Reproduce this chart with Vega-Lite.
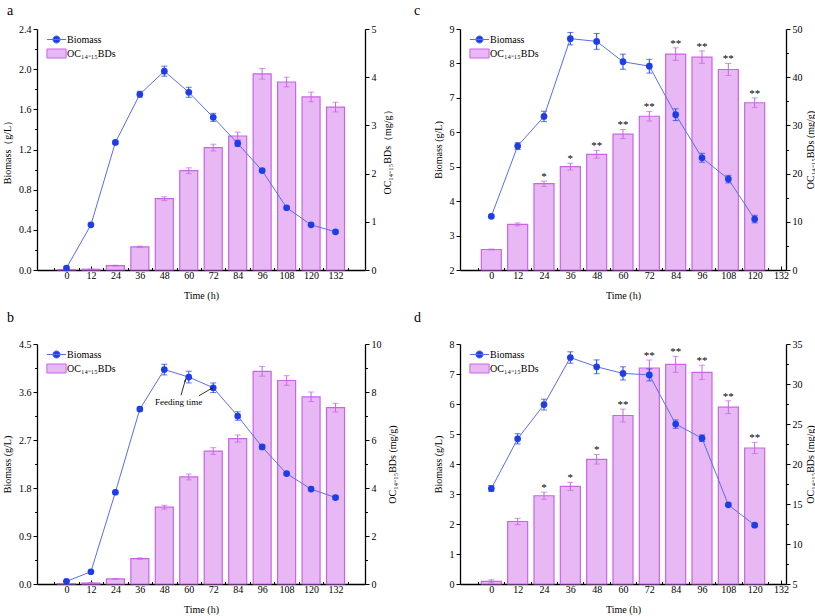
{
  "$schema": "https://vega.github.io/schema/vega-lite/v6.json",
  "background": "white",
  "padding": {"left": 2, "top": 4, "right": 0, "bottom": 0},
  "config": {
    "view": {"stroke": null},
    "font": "Liberation Serif",
    "axis": {"labelFont": "Liberation Serif", "titleFont": "Liberation Serif", "labelFontSize": 10, "titleFontSize": 10, "titleFontWeight": "normal", "labelColor": "black", "titleColor": "black", "domainColor": "black", "tickColor": "black", "domainWidth": 1.3, "tickWidth": 1, "grid": false, "labelFlush": false, "labelOverlap": false},
    "legend": {"orient": "none", "title": null, "symbolSize": 144, "symbolStrokeWidth": 1, "symbolOpacity": 1, "labelOffset": 4, "labelFont": "Liberation Serif", "labelFontSize": 10, "labelColor": "black", "padding": 0},
    "title": {"font": "Liberation Serif", "fontSize": 14, "fontWeight": "normal", "anchor": "start", "frame": "group", "color": "black"},
    "text": {"font": "Liberation Serif"}
  },
  "datasets": {
    "a": [
      {"t": 0, "bio": 0.02, "bioErr": 0.01, "oc": 0.01, "ocErr": 0.005},
      {"t": 12, "bio": 0.45, "bioErr": 0.01, "oc": 0.015, "ocErr": 0.005},
      {"t": 24, "bio": 1.27, "bioErr": 0.015, "oc": 0.09, "ocErr": 0.01},
      {"t": 36, "bio": 1.75, "bioErr": 0.03, "oc": 0.48, "ocErr": 0.015},
      {"t": 48, "bio": 1.98, "bioErr": 0.05, "oc": 1.48, "ocErr": 0.04},
      {"t": 60, "bio": 1.77, "bioErr": 0.05, "oc": 2.06, "ocErr": 0.06},
      {"t": 72, "bio": 1.52, "bioErr": 0.04, "oc": 2.54, "ocErr": 0.07},
      {"t": 84, "bio": 1.26, "bioErr": 0.03, "oc": 2.78, "ocErr": 0.08},
      {"t": 96, "bio": 0.99, "bioErr": 0.015, "oc": 4.07, "ocErr": 0.11},
      {"t": 108, "bio": 0.62, "bioErr": 0.015, "oc": 3.9, "ocErr": 0.1},
      {"t": 120, "bio": 0.45, "bioErr": 0.015, "oc": 3.59, "ocErr": 0.1},
      {"t": 132, "bio": 0.38, "bioErr": 0.015, "oc": 3.38, "ocErr": 0.1}
    ],
    "b": [
      {"t": 0, "bio": 0.05, "bioErr": 0.01, "oc": 0.02, "ocErr": 0.01},
      {"t": 12, "bio": 0.23, "bioErr": 0.02, "oc": 0.04, "ocErr": 0.01},
      {"t": 24, "bio": 1.72, "bioErr": 0.03, "oc": 0.21, "ocErr": 0.02},
      {"t": 36, "bio": 3.28, "bioErr": 0.04, "oc": 1.06, "ocErr": 0.03},
      {"t": 48, "bio": 4.02, "bioErr": 0.1, "oc": 3.2, "ocErr": 0.08},
      {"t": 60, "bio": 3.88, "bioErr": 0.11, "oc": 4.46, "ocErr": 0.12},
      {"t": 72, "bio": 3.68, "bioErr": 0.09, "oc": 5.54, "ocErr": 0.14},
      {"t": 84, "bio": 3.15, "bioErr": 0.08, "oc": 6.06, "ocErr": 0.15},
      {"t": 96, "bio": 2.57, "bioErr": 0.04, "oc": 8.86, "ocErr": 0.2},
      {"t": 108, "bio": 2.07, "bioErr": 0.03, "oc": 8.48, "ocErr": 0.2},
      {"t": 120, "bio": 1.78, "bioErr": 0.03, "oc": 7.8, "ocErr": 0.2},
      {"t": 132, "bio": 1.62, "bioErr": 0.03, "oc": 7.35, "ocErr": 0.18}
    ],
    "c": [
      {"t": 0, "bio": 3.56, "bioErr": 0.05, "oc": 4.25, "ocErr": 0.1, "sig": ""},
      {"t": 12, "bio": 5.6, "bioErr": 0.1, "oc": 9.47, "ocErr": 0.3, "sig": ""},
      {"t": 24, "bio": 6.46, "bioErr": 0.15, "oc": 17.9, "ocErr": 0.55, "sig": "*"},
      {"t": 36, "bio": 8.72, "bioErr": 0.18, "oc": 21.45, "ocErr": 0.7, "sig": "*"},
      {"t": 48, "bio": 8.64, "bioErr": 0.23, "oc": 24.0, "ocErr": 0.8, "sig": "**"},
      {"t": 60, "bio": 8.05, "bioErr": 0.22, "oc": 28.2, "ocErr": 0.95, "sig": "**"},
      {"t": 72, "bio": 7.92, "bioErr": 0.2, "oc": 31.9, "ocErr": 1.0, "sig": "**"},
      {"t": 84, "bio": 6.51, "bioErr": 0.17, "oc": 44.8, "ocErr": 1.3, "sig": "**"},
      {"t": 96, "bio": 5.26, "bioErr": 0.13, "oc": 44.15, "ocErr": 1.3, "sig": "**"},
      {"t": 108, "bio": 4.64, "bioErr": 0.11, "oc": 41.6, "ocErr": 1.25, "sig": "**"},
      {"t": 120, "bio": 3.48, "bioErr": 0.11, "oc": 34.7, "ocErr": 1.0, "sig": "**"}
    ],
    "d": [
      {"t": 0, "bio": 3.18, "bioErr": 0.1, "oc": 5.33, "ocErr": 0.2, "sig": ""},
      {"t": 12, "bio": 4.84, "bioErr": 0.17, "oc": 12.81, "ocErr": 0.4, "sig": ""},
      {"t": 24, "bio": 5.98, "bioErr": 0.18, "oc": 16.03, "ocErr": 0.45, "sig": "*"},
      {"t": 36, "bio": 7.55, "bioErr": 0.19, "oc": 17.2, "ocErr": 0.5, "sig": "*"},
      {"t": 48, "bio": 7.24, "bioErr": 0.23, "oc": 20.59, "ocErr": 0.6, "sig": "*"},
      {"t": 60, "bio": 7.02, "bioErr": 0.22, "oc": 26.06, "ocErr": 0.8, "sig": "**"},
      {"t": 72, "bio": 6.97, "bioErr": 0.2, "oc": 32.0, "ocErr": 1.0, "sig": "**"},
      {"t": 84, "bio": 5.33, "bioErr": 0.14, "oc": 32.45, "ocErr": 1.0, "sig": "**"},
      {"t": 96, "bio": 4.86, "bioErr": 0.11, "oc": 31.45, "ocErr": 0.9, "sig": "**"},
      {"t": 108, "bio": 2.64, "bioErr": 0.05, "oc": 27.1, "ocErr": 0.8, "sig": "**"},
      {"t": 120, "bio": 1.96, "bioErr": 0.05, "oc": 22.0, "ocErr": 0.7, "sig": "**"}
    ],
    "bFeed": [{"t": 55, "bio": 3.41, "label": "Feeding time"}],
    "bArrows": [
      {"id": 1, "t0": 56.2, "b0": 3.54, "t1": 58.3, "b1": 3.82},
      {"id": 2, "t0": 65, "b0": 3.53, "t1": 71.3, "b1": 3.67}
    ]
  },
  "columns": 2,
  "align": "each",
  "spacing": {"row": 10, "column": 17},
  "resolve": {"scale": {"stroke": "independent", "fill": "independent"}, "legend": {"stroke": "independent", "fill": "independent"}},
  "concat": [
    {
      "title": {"text": "a", "offset": 6, "dx": -30},
      "width": 328, "height": 241,
      "data": {"name": "a"},
      "layer": [
        {"layer": [
          {"mark": {"type": "bar", "size": 18, "stroke": "#c964e6", "strokeWidth": 1.2},
           "encoding": {
             "x": {"field": "t", "type": "quantitative", "title": "Time (h)", "scale": {"domain": [-12, 144], "nice": false, "zero": false},
                   "axis": {"values": [-6,0,6,12,18,24,30,36,42,48,54,60,66,72,78,84,90,96,102,108,114,120,126,132,138], "tickCount": 100, "labelOverlap": false, "labelExpr": "datum.value % 12 === 0 && datum.value >= 0 ? datum.label : ''", "tickSize": {"condition": {"test": "datum.value % 12 === 0", "value": -4}, "value": -2.5}, "labelPadding": 4, "titlePadding": 9}},
             "y": {"field": "oc", "type": "quantitative", "title": "OC₁₄₋₁₅BDs（mg/g）", "scale": {"domain": [0, 5], "nice": false},
                   "axis": {"orient": "right", "values": [0,0.5,1,1.5,2,2.5,3,3.5,4,4.5,5], "tickCount": 100, "labelOverlap": false, "format": "d", "labelExpr": "datum.value % 1 === 0 ? datum.label : ''", "tickSize": {"condition": {"test": "datum.value % 1 === 0", "value": 4}, "value": 2.5}, "labelPadding": 2, "titleAngle": 270, "titleBaseline": "top", "titlePadding": 6}},
             "fill": {"datum": "OC₁₄₋₁₅BDs", "scale": {"range": ["#e8b8f5"]},
                      "legend": {"legendX": 13, "legendY": 18, "symbolType": "M-1.6,-0.75H1.6V0.75H-1.6Z", "symbolStrokeColor": "#c964e6"}}
           }},
          {"mark": {"type": "errorbar", "color": "#c964e6", "thickness": 1, "ticks": {"size": 6, "thickness": 1}},
           "encoding": {"x": {"field": "t", "type": "quantitative", "title": "Time (h)"}, "y": {"field": "oc", "type": "quantitative", "title": "OC₁₄₋₁₅BDs（mg/g）"}, "yError": {"field": "ocErr"}}}
        ]},
        {"layer": [
          {"mark": {"type": "errorbar", "color": "#1d3de8", "thickness": 1, "ticks": {"size": 6, "thickness": 1}},
           "encoding": {"x": {"field": "t", "type": "quantitative", "title": "Time (h)"}, "y": {"field": "bio", "type": "quantitative", "title": "Biomass（g/L）"}, "yError": {"field": "bioErr"}}},
          {"mark": {"type": "line", "strokeWidth": 1},
           "encoding": {"x": {"field": "t", "type": "quantitative", "title": "Time (h)"},
                        "y": {"field": "bio", "type": "quantitative", "title": "Biomass（g/L）", "scale": {"domain": [0, 2.4], "nice": false},
                              "axis": {"orient": "left", "values": [0,0.2,0.4,0.6,0.8,1,1.2,1.4,1.6,1.8,2,2.2,2.4], "tickCount": 100, "labelOverlap": false, "format": ".1f", "labelExpr": "round(datum.value*10) % 4 === 0 ? datum.label : ''", "tickSize": {"condition": {"test": "round(datum.value*10) % 4 === 0", "value": 4}, "value": 2.5}, "labelPadding": 2, "titlePadding": 6}},
                        "stroke": {"datum": "Biomass", "scale": {"range": ["#5a6fe4"]},
                                   "legend": {"legendX": 13, "legendY": 4, "symbolType": "M-1.6,0H1.6M0.6,0A0.6,0.6,0,1,1,-0.6,0A0.6,0.6,0,1,1,0.6,0Z", "symbolFillColor": "#1d3de8"}}}},
          {"mark": {"type": "circle", "size": 45, "color": "#1d3de8", "opacity": 1},
           "encoding": {"x": {"field": "t", "type": "quantitative", "title": "Time (h)"}, "y": {"field": "bio", "type": "quantitative", "title": "Biomass（g/L）"}}}
        ]}
      ],
      "resolve": {"scale": {"y": "independent"}}
    },
    {
      "title": {"text": "c", "offset": 6, "dx": -46},
      "width": 326, "height": 241,
      "data": {"name": "c"},
      "layer": [
        {"layer": [
          {"mark": {"type": "bar", "size": 20, "stroke": "#c964e6", "strokeWidth": 1.2},
           "encoding": {
             "x": {"field": "t", "type": "quantitative", "title": "Time (h)", "scale": {"domain": [-12, 132], "nice": false, "zero": false},
                   "axis": {"values": [-6,0,6,12,18,24,30,36,42,48,54,60,66,72,78,84,90,96,102,108,114,120,126,132], "tickCount": 100, "labelOverlap": false, "labelExpr": "datum.value % 12 === 0 && datum.value >= 0 ? datum.label : ''", "tickSize": {"condition": {"test": "datum.value % 12 === 0", "value": -4}, "value": -2.5}, "labelPadding": 4, "titlePadding": 9}},
             "y": {"field": "oc", "type": "quantitative", "title": "OC₁₄₋₁₅BDs (mg/g)", "scale": {"domain": [0, 50], "nice": false},
                   "axis": {"orient": "right", "values": [0,5,10,15,20,25,30,35,40,45,50], "tickCount": 100, "labelOverlap": false, "format": "d", "labelExpr": "datum.value % 10 === 0 ? datum.label : ''", "tickSize": {"condition": {"test": "datum.value % 10 === 0", "value": 4}, "value": 2.5}, "labelPadding": 2, "titleAngle": 270, "titleBaseline": "top", "titlePadding": 3}},
             "fill": {"datum": "OC₁₄₋₁₅BDs", "scale": {"range": ["#e8b8f5"]},
                      "legend": {"legendX": 13, "legendY": 18, "symbolType": "M-1.6,-0.75H1.6V0.75H-1.6Z", "symbolStrokeColor": "#c964e6"}}
           }},
          {"mark": {"type": "errorbar", "color": "#c964e6", "thickness": 1, "ticks": {"size": 6, "thickness": 1}},
           "encoding": {"x": {"field": "t", "type": "quantitative", "title": "Time (h)"}, "y": {"field": "oc", "type": "quantitative", "title": "OC₁₄₋₁₅BDs (mg/g)"}, "yError": {"field": "ocErr"}}},
          {"transform": [{"filter": "datum.sig != ''"}, {"fold": ["oc", "ocErr"]}],
           "mark": {"type": "text", "fontSize": 11, "baseline": "middle", "dy": -4, "color": "black"},
           "encoding": {"x": {"field": "t", "type": "quantitative", "title": "Time (h)"}, "y": {"aggregate": "sum", "field": "value", "type": "quantitative", "title": "OC₁₄₋₁₅BDs (mg/g)"}, "text": {"field": "sig"}}}
        ]},
        {"layer": [
          {"mark": {"type": "errorbar", "color": "#1d3de8", "thickness": 1, "ticks": {"size": 6, "thickness": 1}},
           "encoding": {"x": {"field": "t", "type": "quantitative", "title": "Time (h)"}, "y": {"field": "bio", "type": "quantitative", "title": "Biomass (g/L)"}, "yError": {"field": "bioErr"}}},
          {"mark": {"type": "line", "strokeWidth": 1},
           "encoding": {"x": {"field": "t", "type": "quantitative", "title": "Time (h)"},
                        "y": {"field": "bio", "type": "quantitative", "title": "Biomass (g/L)", "scale": {"domain": [2, 9], "nice": false, "zero": false},
                              "axis": {"orient": "left", "values": [2,2.5,3,3.5,4,4.5,5,5.5,6,6.5,7,7.5,8,8.5,9], "tickCount": 100, "labelOverlap": false, "format": "d", "labelExpr": "datum.value % 1 === 0 ? datum.label : ''", "tickSize": {"condition": {"test": "datum.value % 1 === 0", "value": 4}, "value": 2.5}, "labelPadding": 2, "titlePadding": 6}},
                        "stroke": {"datum": "Biomass", "scale": {"range": ["#5a6fe4"]},
                                   "legend": {"legendX": 13, "legendY": 4, "symbolType": "M-1.6,0H1.6M0.6,0A0.6,0.6,0,1,1,-0.6,0A0.6,0.6,0,1,1,0.6,0Z", "symbolFillColor": "#1d3de8"}}}},
          {"mark": {"type": "circle", "size": 45, "color": "#1d3de8", "opacity": 1},
           "encoding": {"x": {"field": "t", "type": "quantitative", "title": "Time (h)"}, "y": {"field": "bio", "type": "quantitative", "title": "Biomass (g/L)"}}}
        ]}
      ],
      "resolve": {"scale": {"y": "independent"}}
    },
    {
      "title": {"text": "b", "offset": 14, "dx": -30},
      "width": 328, "height": 240,
      "data": {"name": "b"},
      "layer": [
        {"layer": [
          {"mark": {"type": "bar", "size": 18, "stroke": "#c964e6", "strokeWidth": 1.2},
           "encoding": {
             "x": {"field": "t", "type": "quantitative", "title": "Time (h)", "scale": {"domain": [-12, 144], "nice": false, "zero": false},
                   "axis": {"values": [-6,0,6,12,18,24,30,36,42,48,54,60,66,72,78,84,90,96,102,108,114,120,126,132,138], "tickCount": 100, "labelOverlap": false, "labelExpr": "datum.value % 12 === 0 && datum.value >= 0 ? datum.label : ''", "tickSize": {"condition": {"test": "datum.value % 12 === 0", "value": -4}, "value": -2.5}, "labelPadding": 4, "titlePadding": 9}},
             "y": {"field": "oc", "type": "quantitative", "title": "OC₁₄₋₁₅BDs (mg/g)", "scale": {"domain": [0, 10], "nice": false},
                   "axis": {"orient": "right", "values": [0,1,2,3,4,5,6,7,8,9,10], "tickCount": 100, "labelOverlap": false, "format": "d", "labelExpr": "datum.value % 2 === 0 ? datum.label : ''", "tickSize": {"condition": {"test": "datum.value % 2 === 0", "value": 4}, "value": 2.5}, "labelPadding": 2, "titleAngle": 270, "titleBaseline": "top", "titlePadding": 6}},
             "fill": {"datum": "OC₁₄₋₁₅BDs", "scale": {"range": ["#e8b8f5"]},
                      "legend": {"legendX": 13, "legendY": 18, "symbolType": "M-1.6,-0.75H1.6V0.75H-1.6Z", "symbolStrokeColor": "#c964e6"}}
           }},
          {"mark": {"type": "errorbar", "color": "#c964e6", "thickness": 1, "ticks": {"size": 6, "thickness": 1}},
           "encoding": {"x": {"field": "t", "type": "quantitative", "title": "Time (h)"}, "y": {"field": "oc", "type": "quantitative", "title": "OC₁₄₋₁₅BDs (mg/g)"}, "yError": {"field": "ocErr"}}}
        ]},
        {"layer": [
          {"mark": {"type": "errorbar", "color": "#1d3de8", "thickness": 1, "ticks": {"size": 6, "thickness": 1}},
           "encoding": {"x": {"field": "t", "type": "quantitative", "title": "Time (h)"}, "y": {"field": "bio", "type": "quantitative", "title": "Biomass (g/L)"}, "yError": {"field": "bioErr"}}},
          {"mark": {"type": "line", "strokeWidth": 1},
           "encoding": {"x": {"field": "t", "type": "quantitative", "title": "Time (h)"},
                        "y": {"field": "bio", "type": "quantitative", "title": "Biomass (g/L)", "scale": {"domain": [0, 4.5], "nice": false},
                              "axis": {"orient": "left", "values": [0,0.45,0.9,1.35,1.8,2.25,2.7,3.15,3.6,4.05,4.5], "tickCount": 100, "labelOverlap": false, "format": ".1f", "labelExpr": "round(datum.value*100) % 90 === 0 ? datum.label : ''", "tickSize": {"condition": {"test": "round(datum.value*100) % 90 === 0", "value": 4}, "value": 2.5}, "labelPadding": 2, "titlePadding": 6}},
                        "stroke": {"datum": "Biomass", "scale": {"range": ["#5a6fe4"]},
                                   "legend": {"legendX": 13, "legendY": 4, "symbolType": "M-1.6,0H1.6M0.6,0A0.6,0.6,0,1,1,-0.6,0A0.6,0.6,0,1,1,0.6,0Z", "symbolFillColor": "#1d3de8"}}}},
          {"mark": {"type": "circle", "size": 45, "color": "#1d3de8", "opacity": 1},
           "encoding": {"x": {"field": "t", "type": "quantitative", "title": "Time (h)"}, "y": {"field": "bio", "type": "quantitative", "title": "Biomass (g/L)"}}},
          {"data": {"name": "bFeed"},
           "mark": {"type": "text", "fontSize": 9, "color": "black"},
           "encoding": {"x": {"field": "t", "type": "quantitative", "title": "Time (h)"}, "y": {"field": "bio", "type": "quantitative", "title": "Biomass (g/L)"}, "text": {"field": "label"}}},
          {"data": {"name": "bArrows"},
           "mark": {"type": "rule", "color": "black", "strokeWidth": 0.8},
           "encoding": {"x": {"field": "t0", "type": "quantitative", "title": "Time (h)"}, "y": {"field": "b0", "type": "quantitative", "title": "Biomass (g/L)"}, "x2": {"field": "t1"}, "y2": {"field": "b1"}}},
          {"data": {"name": "bArrows"},
           "transform": [{"filter": "datum.id === 1"}],
           "mark": {"type": "point", "shape": "wedge", "filled": true, "color": "black", "size": 30, "angle": 17, "opacity": 1},
           "encoding": {"x": {"field": "t1", "type": "quantitative", "title": "Time (h)"}, "y": {"field": "b1", "type": "quantitative", "title": "Biomass (g/L)"}}},
          {"data": {"name": "bArrows"},
           "transform": [{"filter": "datum.id === 2"}],
           "mark": {"type": "point", "shape": "wedge", "filled": true, "color": "black", "size": 30, "angle": 61, "opacity": 1},
           "encoding": {"x": {"field": "t1", "type": "quantitative", "title": "Time (h)"}, "y": {"field": "b1", "type": "quantitative", "title": "Biomass (g/L)"}}}
        ]}
      ],
      "resolve": {"scale": {"y": "independent"}}
    },
    {
      "title": {"text": "d", "offset": 14, "dx": -46},
      "width": 326, "height": 240,
      "data": {"name": "d"},
      "layer": [
        {"layer": [
          {"mark": {"type": "bar", "size": 20, "stroke": "#c964e6", "strokeWidth": 1.2},
           "encoding": {
             "x": {"field": "t", "type": "quantitative", "title": "Time (h)", "scale": {"domain": [-12, 132], "nice": false, "zero": false},
                   "axis": {"values": [-6,0,6,12,18,24,30,36,42,48,54,60,66,72,78,84,90,96,102,108,114,120,126,132], "tickCount": 100, "labelOverlap": false, "labelExpr": "datum.value % 12 === 0 && datum.value >= 0 ? datum.label : ''", "tickSize": {"condition": {"test": "datum.value % 12 === 0", "value": -4}, "value": -2.5}, "labelPadding": 4, "titlePadding": 9}},
             "y": {"field": "oc", "type": "quantitative", "title": "OC₁₄₋₁₅BDs (mg/g)", "scale": {"domain": [5, 35], "nice": false, "zero": false},
                   "axis": {"orient": "right", "values": [5,7.5,10,12.5,15,17.5,20,22.5,25,27.5,30,32.5,35], "tickCount": 100, "labelOverlap": false, "format": "d", "labelExpr": "datum.value % 5 === 0 ? datum.label : ''", "tickSize": {"condition": {"test": "datum.value % 5 === 0", "value": 4}, "value": 2.5}, "labelPadding": 2, "titleAngle": 270, "titleBaseline": "top", "titlePadding": 3}},
             "y2": {"datum": 5},
             "fill": {"datum": "OC₁₄₋₁₅BDs", "scale": {"range": ["#e8b8f5"]},
                      "legend": {"legendX": 13, "legendY": 18, "symbolType": "M-1.6,-0.75H1.6V0.75H-1.6Z", "symbolStrokeColor": "#c964e6"}}
           }},
          {"mark": {"type": "errorbar", "color": "#c964e6", "thickness": 1, "ticks": {"size": 6, "thickness": 1}},
           "encoding": {"x": {"field": "t", "type": "quantitative", "title": "Time (h)"}, "y": {"field": "oc", "type": "quantitative", "title": "OC₁₄₋₁₅BDs (mg/g)"}, "yError": {"field": "ocErr"}}},
          {"transform": [{"filter": "datum.sig != ''"}, {"fold": ["oc", "ocErr"]}],
           "mark": {"type": "text", "fontSize": 11, "baseline": "middle", "dy": -4, "color": "black"},
           "encoding": {"x": {"field": "t", "type": "quantitative", "title": "Time (h)"}, "y": {"aggregate": "sum", "field": "value", "type": "quantitative", "title": "OC₁₄₋₁₅BDs (mg/g)"}, "text": {"field": "sig"}}}
        ]},
        {"layer": [
          {"mark": {"type": "errorbar", "color": "#1d3de8", "thickness": 1, "ticks": {"size": 6, "thickness": 1}},
           "encoding": {"x": {"field": "t", "type": "quantitative", "title": "Time (h)"}, "y": {"field": "bio", "type": "quantitative", "title": "Biomass (g/L)"}, "yError": {"field": "bioErr"}}},
          {"mark": {"type": "line", "strokeWidth": 1},
           "encoding": {"x": {"field": "t", "type": "quantitative", "title": "Time (h)"},
                        "y": {"field": "bio", "type": "quantitative", "title": "Biomass (g/L)", "scale": {"domain": [0, 8], "nice": false},
                              "axis": {"orient": "left", "values": [0,0.5,1,1.5,2,2.5,3,3.5,4,4.5,5,5.5,6,6.5,7,7.5,8], "tickCount": 100, "labelOverlap": false, "format": "d", "labelExpr": "datum.value % 1 === 0 ? datum.label : ''", "tickSize": {"condition": {"test": "datum.value % 1 === 0", "value": 4}, "value": 2.5}, "labelPadding": 2, "titlePadding": 6}},
                        "stroke": {"datum": "Biomass", "scale": {"range": ["#5a6fe4"]},
                                   "legend": {"legendX": 13, "legendY": 4, "symbolType": "M-1.6,0H1.6M0.6,0A0.6,0.6,0,1,1,-0.6,0A0.6,0.6,0,1,1,0.6,0Z", "symbolFillColor": "#1d3de8"}}}},
          {"mark": {"type": "circle", "size": 45, "color": "#1d3de8", "opacity": 1},
           "encoding": {"x": {"field": "t", "type": "quantitative", "title": "Time (h)"}, "y": {"field": "bio", "type": "quantitative", "title": "Biomass (g/L)"}}}
        ]}
      ],
      "resolve": {"scale": {"y": "independent"}}
    }
  ]
}
